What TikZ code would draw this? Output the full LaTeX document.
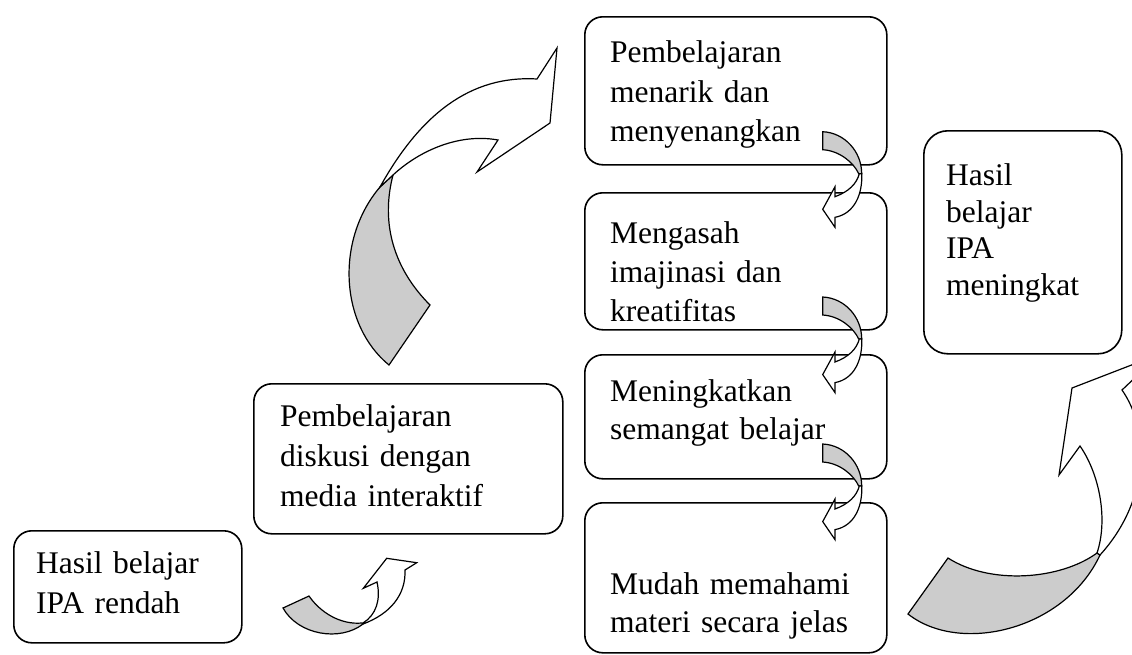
\documentclass[tikz,border=0pt]{standalone}
\usepackage{fontspec}
\setmainfont{Liberation Serif}
\definecolor{shade}{RGB}{204,204,204}
\begin{document}
\begin{tikzpicture}[x=1pt,y=-1pt,
  box/.style={draw, line width=1.6pt, rounded corners=18pt, fill=white, anchor=north west, inner sep=0pt},
  txt/.style={anchor=base west, align=left, text width=300pt, inner sep=0pt, font=\fontsize{31.5}{39}\selectfont},
  arw/.style={draw, line width=1.2pt, line join=miter, fill=white},
  back/.style={draw, line width=1.2pt, line join=miter, fill=shade},
  bendarrow/.pic={
    \path[back] (0,0) .. controls (22,1) and (39,20) .. (39,42) -- (36,42)
       .. controls (31,31) and (17,19) .. (0,18) -- cycle;
    \path[arw] (39,42) .. controls (40,62) and (32,82) .. (12.3,85.6) -- (12.3,95.6) -- (0,77.6)
       -- (12.3,55) -- (12.3,65) .. controls (26,60) and (34,52) .. (36.6,42) -- cycle;
  }]
\useasboundingbox (0,0) rectangle (1132,654);
\clip (0,0) rectangle (1132,654);

% boxes
\node[box, minimum width=228pt, minimum height=112pt] (rendah) at (13,530) {};
\node[box, minimum width=309pt, minimum height=150pt] (diskusi) at (253,383) {};
\node[box, minimum width=302pt, minimum height=148pt] (menarik) at (584,16) {};
\node[box, minimum width=302pt, minimum height=137pt] (imajinasi) at (584,192) {};
\node[box, minimum width=302pt, minimum height=124pt] (semangat) at (584,354) {};
\node[box, minimum width=302pt, minimum height=150pt] (mudah) at (584,502) {};
\node[box, minimum width=198pt, minimum height=223pt, rounded corners=24pt] (meningkat) at (923,130) {};

% texts
\node[txt, font=\fontsize{31.5}{40}\selectfont] (trendah) at (36,573.3) {Hasil belajar\\IPA rendah};
\node[txt, font=\fontsize{31.5}{40}\selectfont] (tdiskusi) at (280,426.7) {Pembelajaran\\diskusi dengan\\media interaktif};
\node[txt, font=\fontsize{31.5}{39.5}\selectfont] (tmenarik) at (610,62.7) {Pembelajaran\\menarik dan\\menyenangkan};
\node[txt] (timajinasi) at (610,243.3) {Mengasah\\imajinasi dan\\kreatifitas};
\node[txt, font=\fontsize{31.5}{38}\selectfont] (tsemangat) at (610,401.7) {Meningkatkan\\semangat belajar};
\node[txt, font=\fontsize{31.5}{38.7}\selectfont] (tmudah) at (610,594) {Mudah memahami\\materi secara jelas};
\node[txt, font=\fontsize{31.5}{36.5}\selectfont] (tmeningkat) at (946,185.7) {Hasil\\belajar\\IPA\\meningkat};

% big arrow from discussion up to first box
\path[back] (389,365) .. controls (340,325) and (335,240) .. (380,187) -- (393,175)
   .. controls (380,225) and (395,270) .. (430,305) -- cycle;
\path[arw] (380,187) .. controls (420,115) and (470,75) .. (537,79) -- (557,48) -- (550,123)
   -- (477,172) -- (498,140) .. controls (460,133) and (420,150) .. (393,175) -- cycle;

% small arrow bottom left
\path[back] (283,608) .. controls (298,635) and (340,642) .. (363,624) -- (362,623)
   .. controls (340,625) and (320,612) .. (309,596) -- cycle;
\path[arw] (363,624) .. controls (390,614) and (406,595) .. (405,570) -- (416.7,562.7)
   -- (386.7,558.3) -- (363.3,588.3) -- (377,582) .. controls (381,600) and (376,615) .. (363,623) -- cycle;

% big arrow bottom right
\path[back] (908,614) .. controls (960,655) and (1065,630) .. (1100,555) -- (1097,553)
   .. controls (1060,580) and (990,585) .. (948,558) -- cycle;
\path[arw] (1100,555) .. controls (1150,500) and (1150,430) .. (1122,390) -- (1160,354)
   -- (1072,388) -- (1059,475) -- (1080,446) .. controls (1100,475) and (1108,520) .. (1097,553) -- cycle;

% small arrows between the column boxes
\pic at (822.7,131.7) {bendarrow};
\pic at (822.7,297) {bendarrow};
\pic at (822.7,444) {bendarrow};
\end{tikzpicture}
\end{document}
